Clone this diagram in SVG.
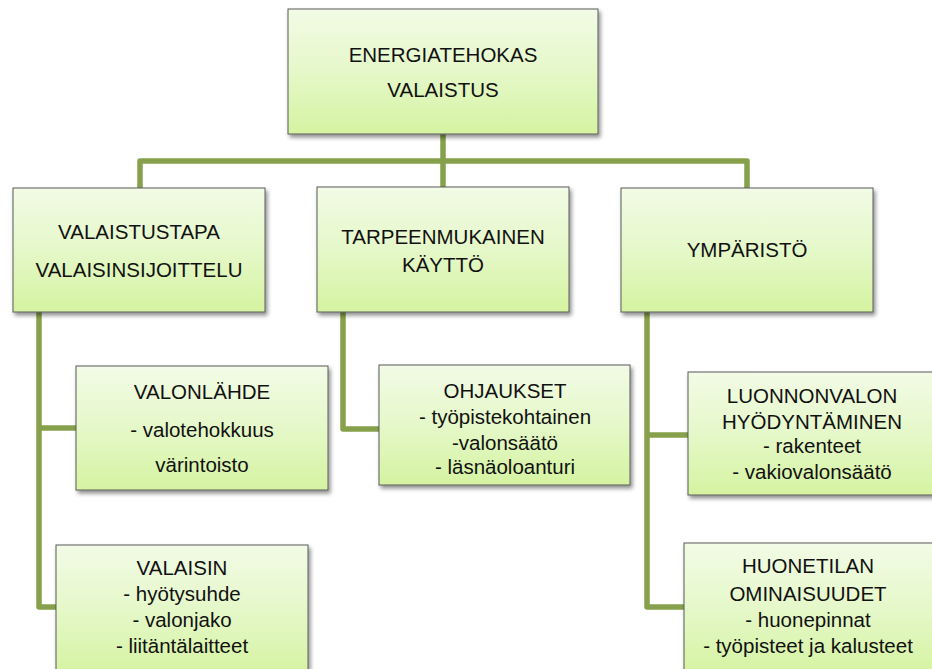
<svg xmlns="http://www.w3.org/2000/svg" width="932" height="669" viewBox="0 0 932 669">
<style>
.box{fill:url(#g);stroke:#5a5a5a;stroke-width:1;filter:url(#sh)}
.t{font-family:"Liberation Sans",Arial,sans-serif;font-size:20.5px;fill:#111;text-anchor:middle}
.c{fill:none;stroke:#86a04b;stroke-width:5.5;stroke-linejoin:round}
</style>
<defs>
<linearGradient id="g" x1="0" y1="0" x2="0" y2="1">
<stop offset="0" stop-color="#f2fbe6"/>
<stop offset="0.5" stop-color="#e5f8c9"/>
<stop offset="1" stop-color="#d5f3a1"/>
</linearGradient>
<filter id="sh" x="-10%" y="-10%" width="125%" height="130%">
<feGaussianBlur in="SourceAlpha" stdDeviation="2"/>
<feOffset dx="2" dy="3" result="b"/>
<feComponentTransfer><feFuncA type="linear" slope="0.45"/></feComponentTransfer>
<feMerge><feMergeNode/><feMergeNode in="SourceGraphic"/></feMerge>
</filter>
</defs>
<rect width="932" height="669" fill="#fff"/>
<g id="connectors">
<path class="c" d="M443 134V187"/>
<path class="c" d="M140 188V161H747V188"/>
<path class="c" d="M39 312V607H56M39 428H76"/>
<path class="c" d="M343 312V429H379"/>
<path class="c" d="M647 312V607H684M647 435H688"/>
</g>
<g id="root"><rect class="box" x="288" y="9" width="310" height="125"/>
<text class="t" x="443" y="62">ENERGIATEHOKAS</text><text class="t" x="443" y="97">VALAISTUS</text></g>
<g id="valaistustapa"><rect class="box" x="13" y="188" width="252" height="124"/>
<text class="t" x="139" y="239">VALAISTUSTAPA</text><text class="t" x="139" y="277">VALAISINSIJOITTELU</text></g>
<g id="tarpeenmukainen"><rect class="box" x="317" y="187" width="252" height="125"/>
<text class="t" x="443" y="244">TARPEENMUKAINEN</text><text class="t" x="443" y="272">KÄYTTÖ</text></g>
<g id="ymparisto"><rect class="box" x="621" y="188" width="252" height="124"/>
<text class="t" x="747" y="257">YMPÄRISTÖ</text></g>
<g id="valonlahde"><rect class="box" x="76" y="366" width="252" height="124"/>
<text class="t" x="202" y="399">VALONLÄHDE</text><text class="t" x="202" y="437">- valotehokkuus</text><text class="t" x="202" y="472">värintoisto</text></g>
<g id="valaisin"><rect class="box" x="56" y="545" width="252" height="130"/>
<text class="t" x="182" y="575">VALAISIN</text><text class="t" x="182" y="601">- hyötysuhde</text><text class="t" x="182" y="627">- valonjako</text><text class="t" x="182" y="653">- liitäntälaitteet</text></g>
<g id="ohjaukset"><rect class="box" x="379" y="365" width="251" height="120"/>
<text class="t" x="505" y="398">OHJAUKSET</text><text class="t" x="505" y="424">- työpistekohtainen</text><text class="t" x="505" y="450">-valonsäätö</text><text class="t" x="505" y="474">- läsnäoloanturi</text></g>
<g id="luonnonvalon"><rect class="box" x="688" y="372" width="250" height="123"/>
<text class="t" x="812" y="403">LUONNONVALON</text><text class="t" x="812" y="429">HYÖDYNTÄMINEN</text><text class="t" x="812" y="453">- rakenteet</text><text class="t" x="812" y="479">- vakiovalonsäätö</text></g>
<g id="huonetilan"><rect class="box" x="684" y="543" width="254" height="132"/>
<text class="t" x="808" y="573">HUONETILAN</text><text class="t" x="808" y="601">OMINAISUUDET</text><text class="t" x="808" y="627">- huonepinnat</text><text class="t" x="808" y="653">- työpisteet ja kalusteet</text></g>
</svg>
